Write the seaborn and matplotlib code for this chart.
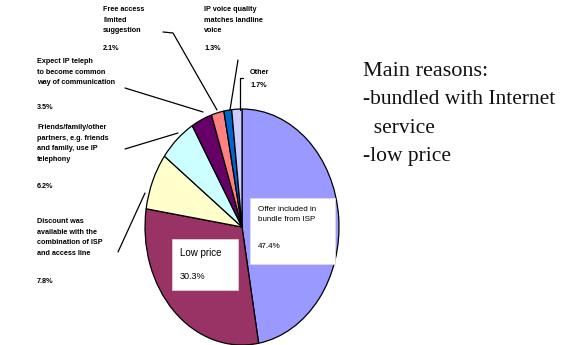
import matplotlib
matplotlib.use("Agg")
import matplotlib.pyplot as plt
import seaborn as sns
from matplotlib.patches import Rectangle
from matplotlib.lines import Line2D

sns.set_theme(style="white")
plt.rcParams['font.family'] = ['Liberation Sans', 'DejaVu Sans']

# ---- data ----
categories = [
    "Offer included in\nbundle from ISP",
    "Low price",
    "Discount was\navailable with the\ncombination of ISP\nand access line",
    "Friends/family/other\npartners, e.g. friends\nand family, use IP\ntelephony",
    "Expect IP teleph\nto become common\nway of communication",
    "Free access\nlimited\nsuggestion",
    "IP voice quality\nmatches landline\nvoice",
    "Other",
]
values = [47.4, 30.3, 7.8, 6.2, 3.5, 2.1, 1.3, 1.7]
pct_labels = ["47.4%", "30.3%", "7.8%", "6.2%", "3.5%", "2.1%", "1.3%", "1.7%"]
colors = ["#9999FF", "#993366", "#FFFFCC", "#CCFFFF", "#660066", "#FF8080", "#0066CC", "#CCCCFF"]
side_title = "Main reasons:"
side_lines = ["-bundled with Internet", "  service", "-low price"]

W, H = 565, 345
fig = plt.figure(figsize=(W / 100, H / 100), dpi=100)
fig.patch.set_facecolor("white")

def fx(x):
    return x / W

def fy(y):
    return 1 - y / H

# pie axes (elliptical pie): x 145..339, y 109..345
ax = fig.add_axes([fx(145), fy(345), (339 - 145) / W, (345 - 109) / H])
ax.pie(values, colors=colors, startangle=90, counterclock=False,
       wedgeprops=dict(edgecolor="black", linewidth=0.9))
ax.set_aspect("auto")
ax.set_xlim(-1.0, 1.0)
ax.set_ylim(-1.0, 1.0)
ax.axis("off")

small = dict(fontsize=5.2, fontweight="bold", color="black", va="top", ha="left",
             linespacing=1.75)

def label(x, y, text, pct, pct_y, **kw):
    d = dict(small)
    d.update(kw)
    fig.text(fx(x), fy(y), text, **d)
    fig.text(fx(x), fy(pct_y), pct, **d)

# outside labels
label(103, 6, categories[5], pct_labels[5], 45)
label(204, 6, categories[6], pct_labels[6], 45)
label(250, 69, categories[7], pct_labels[7], 82)
label(37, 58, categories[4], pct_labels[4], 104)
label(37, 124, categories[3], pct_labels[3], 183)
label(37, 218, categories[2], pct_labels[2], 278)

# leader lines
def line(xs, ys):
    fig.add_artist(Line2D([fx(x) for x in xs], [fy(y) for y in ys],
                          color="black", linewidth=0.9))

line([163, 173, 217], [32, 33, 110])
line([238, 230], [60, 110])
line([243, 240, 240], [78, 78, 110])
line([125, 203], [88, 112])
line([125, 178], [149, 133])
line([118, 145], [252, 193])

# boxes inside the pie
def box(x0, y0, x1, y1):
    fig.add_artist(Rectangle((fx(x0), fy(y1)), (x1 - x0) / W, (y1 - y0) / H,
                             transform=fig.transFigure, facecolor="white",
                             edgecolor="#dddddd", linewidth=0.5))

box(250, 198, 335, 264)
fig.text(fx(258), fy(206), categories[0], fontsize=5.8, va="top", ha="left",
         linespacing=1.6, color="black")
fig.text(fx(258), fy(243), pct_labels[0], fontsize=5.8, va="top", ha="left", color="black")

box(172, 239, 238, 290)
fig.text(fx(180), fy(248), categories[1], fontsize=7, va="top", ha="left", color="black")
fig.text(fx(180), fy(272), pct_labels[1], fontsize=6.5, va="top", ha="left", color="black")

# side text
serif = ['Liberation Serif', 'DejaVu Serif']
fig.text(fx(363), fy(72), side_title, fontsize=16, family=serif, va="center", ha="left", color="#111111")
for i, s in enumerate(side_lines):
    fig.text(fx(363), fy(100 + 28.5 * i), s, fontsize=15.5, family=serif,
             va="center", ha="left", color="#111111")

fig.savefig("out.png", dpi=100, facecolor="white")
